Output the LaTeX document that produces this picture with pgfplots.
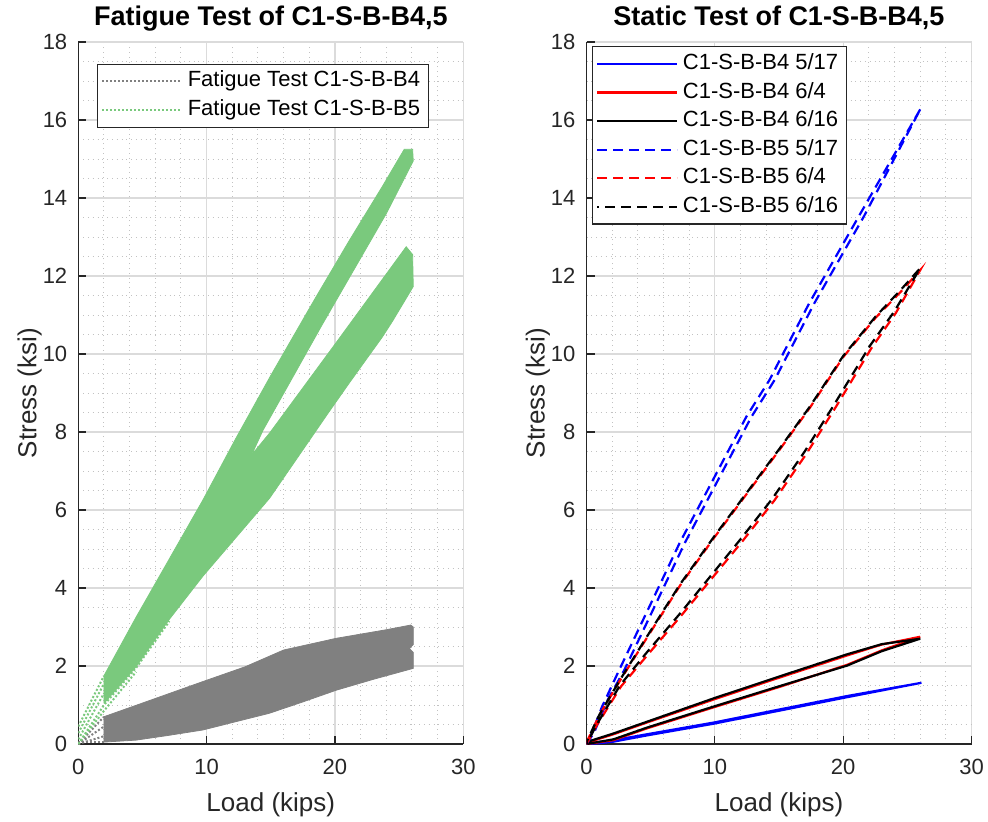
\documentclass[border=0pt]{standalone}
\usepackage{fontspec}
\setmainfont{Liberation Sans}
\usepackage{pgfplots}
\pgfplotsset{compat=1.18}

\definecolor{fgreen}{RGB}{122,201,125}
\definecolor{fgray}{RGB}{128,128,128}
\definecolor{axgray}{RGB}{38,38,38}

\pgfplotsset{
  panel/.style={
    scale only axis, width=192.5pt, height=351pt,
    xmin=0, xmax=30, ymin=0, ymax=18,
    xtick={0,10,20,30}, ytick={0,2,...,18},
    minor x tick num=4, minor y tick num=3,
    grid=both,
    major grid style={draw=black!14, line width=0.6pt},
    minor grid style={draw=black!24, dotted, line width=0.5pt},
    axis x line*=bottom, axis y line*=left,
    axis line style={draw=axgray, line width=0.6pt, -},
    tick align=inside, major tick length=4pt, minor tick length=0pt,
    tick style={draw=axgray, line width=0.6pt},
    /pgf/number format/assume math mode=true,
    ticklabel style={font=\fontsize{11}{13}\selectfont, text=axgray},
    xticklabel style={anchor=base, yshift=-15pt},
    yticklabel style={xshift=-2pt},
    label style={font=\fontsize{13}{15}\selectfont, text=axgray},
    xlabel={Load (kips)}, ylabel={Stress (ksi)},
    xlabel style={at={([yshift=-33.5pt]axis description cs:0.5,0)}, anchor=base},
    ylabel style={at={([xshift=-21pt]axis description cs:0,0.5)}, anchor=base},
    title style={at={([yshift=2.5pt]axis description cs:0.5,1)}, anchor=base,
                 font=\fontsize{13.5}{16}\selectfont\bfseries},
    legend cell align=left,
    legend image code/.code={\draw[#1] (0pt,0pt) -- (40pt,0pt);},
    legend style={font=\fontsize{11}{13}\selectfont, draw=axgray, line width=0.6pt,
                  inner xsep=2pt, inner ysep=1.4pt, anchor=north west,
                  nodes={inner xsep=2.2pt, inner ysep=1.9pt, text height=8pt, text depth=2.5pt}},
  },
  b5dash/.style={line width=1.1pt, dash pattern=on 5pt off 3pt},
  b4solid/.style={line width=1.1pt},
  fdot/.style={line width=1pt, dash pattern=on 1pt off 1pt},
}

\begin{document}
\begin{tikzpicture}
\useasboundingbox (-39.15pt,-38.5pt) rectangle (454.85pt,372pt);

% ---------------- fatigue test ----------------
\begin{axis}[panel, title={Fatigue Test of C1-S-B-B4,5},
  legend style={at={(0.048,0.969)}}]

% B4 cycles, drawn as the envelope they fill
\addplot[fill=fgray, draw=fgray, line width=0.4pt, forget plot] coordinates {
  (2,0.05) (2,0.70) (5,1.05) (9.7,1.60) (13,1.98) (16,2.41) (20.1,2.71)
  (24,2.93) (25.9,3.05) (26.1,3.0) (26.1,2.55) (25.8,2.45) (26.1,2.35)
  (26.1,1.94) (23,1.66) (20.1,1.38) (17.5,1.08) (14.9,0.79) (12,0.55)
  (9.7,0.36) (7,0.22) (4.5,0.10) (2,0.05)};
\addplot[fgray, fdot] coordinates {(0,0) (2,0.70)};
\addplot[fgray, fdot, forget plot] coordinates {(0,0) (2,0.45)};
\addplot[fgray, fdot, forget plot] coordinates {(0,0) (2,0.20)};
\addplot[fgray, fdot, forget plot] coordinates {(0,0.05) (2,0.05)};

% B5 cycles
\addplot[fill=fgreen, draw=fgreen, line width=0.4pt, forget plot] coordinates {
  (2,1.04) (2,1.75) (4.5,3.25) (7.1,4.75) (9.7,6.25) (12.3,7.85) (15,9.45)
  (18.5,11.45) (21.1,12.9) (23.7,14.3) (25.4,15.25) (26.05,15.25) (26.1,14.95)
  (24,13.6) (19,10.75) (14.4,8.05) (13.5,7.41) (14.9,7.97) (20,10.25)
  (25.55,12.75) (26.05,12.55) (26.1,11.73) (24.5,10.85) (23.7,10.44)
  (21.1,9.25) (19.5,8.5) (17.2,7.4) (14.9,6.3) (12.3,5.3) (9.7,4.3)
  (7.1,3.2) (4.5,1.98) (2,1.04)};
\addplot[fgreen, fdot] coordinates {(0,0) (2,1.0) (4.5,1.95) (7.1,3.15)};
\addplot[fgreen, fdot, forget plot] coordinates {(0,0) (2,0.85) (4.5,1.85)};
\addplot[fgreen, fdot, forget plot] coordinates {(0,0.12) (2,1.30)};
\addplot[fgreen, fdot, forget plot] coordinates {(0,0.28) (2,1.55)};
\addplot[fgreen, fdot, forget plot] coordinates {(0,0.45) (2,1.75)};

\legend{Fatigue Test C1-S-B-B4, Fatigue Test C1-S-B-B5}
\end{axis}

% ---------------- static test ----------------
\begin{axis}[panel, at={(254.1pt,0pt)}, title={Static Test of C1-S-B-B4,5},
  legend style={at={(0.0135,0.994)}}]

% B4 gauges: load up, then unload
\addplot[blue, b4solid] coordinates {
  (0,0) (1,0.02) (2.1,0.06) (4.7,0.22) (9.9,0.52) (15.1,0.86) (20.3,1.20) (26.1,1.57)
  (20.3,1.23) (15.1,0.89) (9.9,0.55) (4.7,0.25) (2,0.09) (0,0.02)};
\addplot[red, b4solid] coordinates {
  (0,0) (2.1,0.10) (4.7,0.40) (9.9,0.94) (15.1,1.47) (20.3,2.03) (23,2.40) (26,2.75)
  (23,2.55) (20.3,2.27) (15.1,1.71) (9.9,1.14) (4.7,0.55) (2.1,0.25) (0,0.03)};
\addplot[black, b4solid] coordinates {
  (0,0) (2.1,0.12) (4.7,0.42) (9.9,0.96) (15.1,1.49) (20.3,2.01) (23,2.38) (26,2.70)
  (23,2.56) (20.3,2.30) (15.1,1.74) (9.9,1.17) (4.7,0.57) (2.1,0.27) (0,0.05)};

% B5 gauges
\addplot[blue, b5dash] coordinates {
  (0,0) (0.6,0.30) (1.6,1.10) (2.95,1.90) (5.05,3.35) (7.65,5.15) (10.25,6.77)
  (12.85,8.39) (14.65,9.33) (17.75,11.30) (21.6,13.52) (26.05,16.30)
  (21.2,13.52) (17.35,11.30) (14.25,9.33) (12.45,8.39) (9.85,6.77) (7.25,5.15)
  (4.65,3.35) (2.55,1.90) (1.2,0.95) (0.45,0.30) (0,0.02)};
\addplot[red, b5dash] coordinates {
  (0,0) (0.8,0.48) (2.7,1.48) (4.85,2.32) (7.45,3.32) (10.05,4.36) (12.15,5.2)
  (14.65,6.25) (17.15,7.45) (19.35,8.6) (22.2,10.15) (24.1,11.05) (26,12.15)
  (24.5,11.6) (22.5,10.92) (20,9.92) (17.4,8.62) (15.1,7.57) (12.5,6.42)
  (9.9,5.27) (7.3,4.07) (4.7,2.72) (2.6,1.62) (1,0.74) (0,0.04)};
\addplot[black, b5dash, dash phase=4pt] coordinates {
  (0,0) (0.8,0.50) (2.6,1.50) (4.7,2.35) (7.3,3.35) (9.9,4.40) (12.0,5.25)
  (14.5,6.30) (17.0,7.50) (19.2,8.65) (22.06,10.20) (24.0,11.10) (26,12.20)
  (24.5,11.65) (22.5,10.95) (20,9.95) (17.4,8.65) (15.1,7.60) (12.5,6.45)
  (9.9,5.30) (7.3,4.10) (4.7,2.75) (2.6,1.64) (1,0.75) (0,0.05)};

\legend{C1-S-B-B4 5/17, C1-S-B-B4 6/4, C1-S-B-B4 6/16,
        C1-S-B-B5 5/17, C1-S-B-B5 6/4, C1-S-B-B5 6/16}
\end{axis}
\end{tikzpicture}
\end{document}
